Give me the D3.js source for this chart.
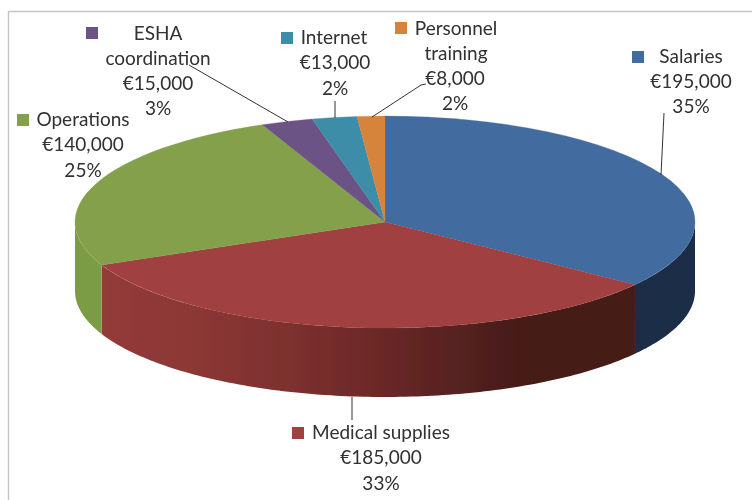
<!DOCTYPE html>
<html>
<head>
<meta charset="utf-8">
<script src="https://cdn.jsdelivr.net/npm/d3@7"></script>
<style>
html,body{margin:0;padding:0;background:#fff;overflow:hidden}
text{font-family:Lato,"Open Sans",sans-serif;font-size:19px;fill:#303030}
</style>
</head>
<body>
<script>
const categories = ["Salaries","Medical supplies","Operations","ESHA coordination","Internet","Personnel training"];
const amounts = [195000,185000,140000,15000,13000,8000];
const percents = [35,33,25,3,2,2];
const colors = ["#426c9f","#a04140","#84a04b","#6c5285","#3d8da8","#d6833a"];

const W = 752, H = 500;
const cx = 385, cy = 222, rx = 310, ry = 106, depth = 69;

// Label layout: swatch position, then text lines with centre x and baseline y.
const labelLayout = [
  {sw:[632,51], lines:[["Salaries",691,63],["€",691,88],["%",691,113]], leader:[[664,113],[661,175]]},
  {sw:[292,427], lines:[["Medical supplies",381,439],["€",381,464],["%",381,490]], leader:[[352,397],[352,420]]},
  {sw:[17,114], lines:[["Operations",83,126],["€",83,151],["%",83,177]], leader:null},
  {sw:[86,27], lines:[["ESHA",158,40],["coordination",158,65],["€",158,90],["%",158,115]], leader:[[189,65],[288,122]]},
  {sw:[281,32], lines:[["Internet",334,44],["€",335,69],["%",335,95]], leader:[[335,101],[335,118]]},
  {sw:[395,22], lines:[["Personnel",456,35],["training",456,60],["€",455,85],["%",455,110]], leader:[[426,84],[421,85],[372,117]]}
];

const svg = d3.select("body").append("svg").attr("width",W).attr("height",H).style("display","block");
const defs = svg.append("defs");
defs.append("filter").attr("id","soft").attr("x","-5%").attr("y","-5%").attr("width","110%").attr("height","110%")
  .append("feGaussianBlur").attr("stdDeviation",0.45);

const sideFill = (id, stops) => {
  const g = defs.append("linearGradient").attr("id",id).attr("gradientUnits","userSpaceOnUse")
    .attr("x1",cx-rx).attr("x2",cx+rx).attr("y1",0).attr("y2",0);
  stops.forEach(s => g.append("stop").attr("offset",s[0]).attr("stop-color",s[1]));
  return `url(#${id})`;
};
const sideFills = [
  sideFill("gBlue",[[0,"#1a2e47"],[1,"#1a2e47"]]),
  sideFill("gRed",[[0,"#963b3b"],[0.2,"#8b3735"],[0.37,"#7a2f2d"],[0.5,"#6a2827"],[0.62,"#552120"],[0.73,"#451c18"],[1,"#441a16"]]),
  sideFill("gGreen",[[0,"#7c9b45"],[1,"#7c9c45"]]),
  colors[3],colors[4],colors[5]
];

// Frame
svg.append("path").attr("d",`M8.5,${H}V11.5H${W}`).attr("fill","none").attr("stroke","#c4c4c4").attr("stroke-width",1.4);

const pie = d3.pie().sort(null).value(d=>d)(amounts);
const px = d3.scaleLinear().domain([-1,1]).range([cx-rx,cx+rx]);
const py = d3.scaleLinear().domain([-1,1]).range([cy-ry,cy+ry]);

const chart = svg.append("g").attr("filter","url(#soft)");

// Side walls: only the front half (90 to 270 degrees) is visible
const side = d3.area()
  .x(a=>px(Math.sin(a)))
  .y0(a=>py(-Math.cos(a)))
  .y1(a=>py(-Math.cos(a))+depth);
pie.forEach((s,i)=>{
  const a0 = Math.max(s.startAngle,Math.PI/2), a1 = Math.min(s.endAngle,3*Math.PI/2);
  if(a1<=a0) return;
  const steps = d3.range(0,121).map(k=>a0+(a1-a0)*k/120);
  chart.append("path").attr("d",side(steps)).attr("fill",sideFills[i]);
});

// Top faces
const arc = d3.arc().innerRadius(0).outerRadius(rx);
chart.append("g").attr("transform",`translate(${cx},${cy}) scale(1,${ry/rx})`)
  .selectAll("path").data(pie).join("path")
  .attr("d",arc).attr("fill",(d,i)=>colors[i]).attr("stroke",(d,i)=>colors[i]).attr("stroke-width",0.4);

// Leaders
const line = d3.line();
const labels = svg.append("g").attr("filter","url(#soft)");
labelLayout.forEach(l=>{
  if(l.leader) labels.append("path").attr("d",line(l.leader)).attr("fill","none").attr("stroke","#333").attr("stroke-width",1);
});

// Labels
const euro = v=>"€"+d3.format(",")(v);
labelLayout.forEach((l,i)=>{
  labels.append("rect").attr("x",l.sw[0]).attr("y",l.sw[1]).attr("width",12).attr("height",12).attr("fill",colors[i]);
  l.lines.forEach(t=>{
    const s = t[0]==="€" ? euro(amounts[i]) : t[0]==="%" ? percents[i]+"%" : t[0];
    labels.append("text").attr("x",t[1]).attr("y",t[2]).attr("text-anchor","middle").text(s);
  });
});
</script>
</body>
</html>
